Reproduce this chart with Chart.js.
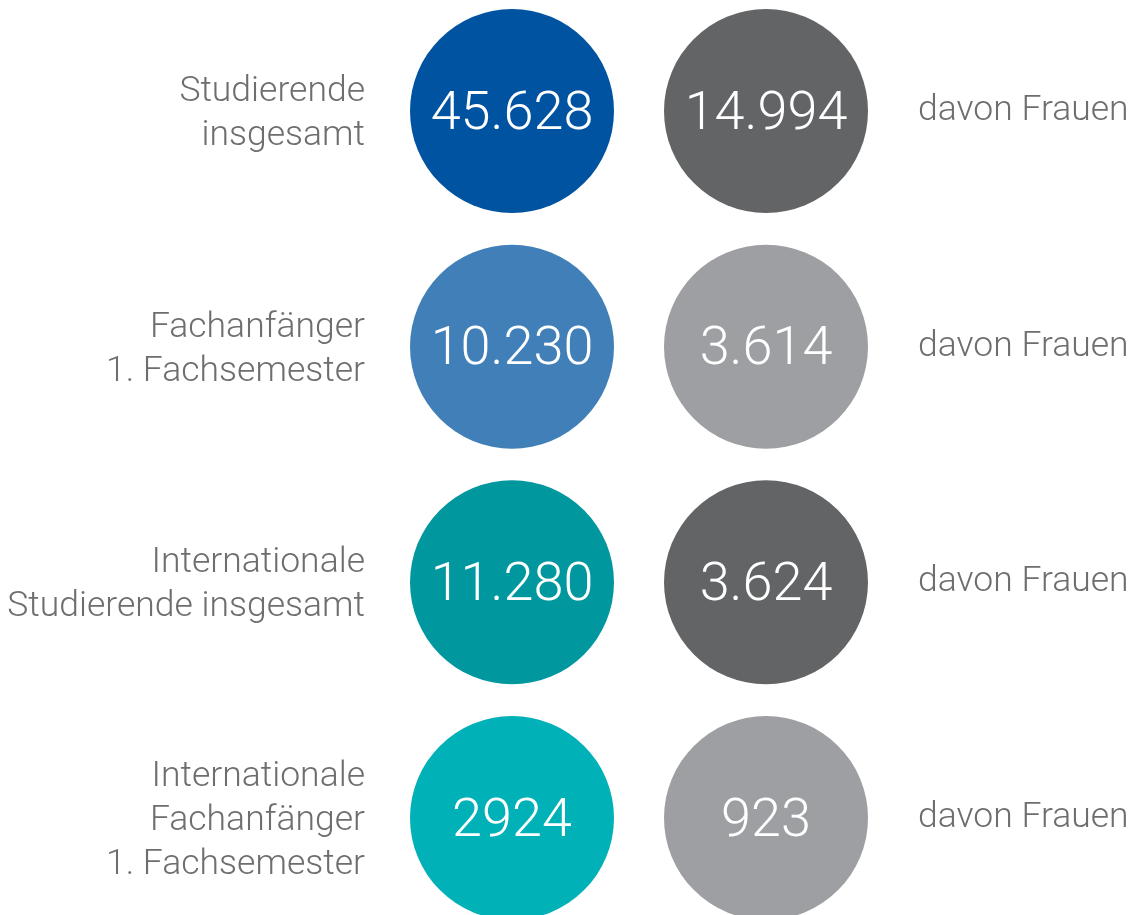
<!DOCTYPE html>
<html>
<head>
<meta charset="utf-8">
<script src="https://cdn.jsdelivr.net/npm/chart.js@4/dist/chart.umd.min.js"></script>
<style>
  html, body { margin: 0; padding: 0; background: #fff; }
  #wrap { width: 1135px; height: 915px; }
</style>
</head>
<body>
<div id="wrap"><canvas id="chart"></canvas></div>
<script>
// rows of the infographic
const rowLabels = [
  ['Studierende', 'insgesamt'],
  ['Fachanfänger', '1. Fachsemester'],
  ['Internationale', 'Studierende insgesamt'],
  ['Internationale', 'Fachanfänger', '1. Fachsemester']
];
const totals = [45628, 10230, 11280, 2924];
const women = [14994, 3614, 3624, 923];
const womenLabel = 'davon Frauen';
const totalColors = ['#0053A0', '#417FB8', '#00979F', '#00B1B7'];
const womenColors = ['#636466', '#9D9FA2', '#636466', '#9D9FA2'];

const FONT = 'Roboto, "Liberation Sans", sans-serif';

// the source prints 4-digit numbers without a separator only in the last row
const fmt = (v, i) => i === 3 ? String(v) : String(v).replace(/\B(?=(\d{3})+(?!\d))/g, '.');

const circleText = {
  id: 'circleText',
  afterDatasetsDraw(chart) {
    const ctx = chart.ctx;
    const xs = chart.scales.x, ys = chart.scales.y;
    const r = chart.data.datasets[0].radius;
    ctx.save();
    // numbers inside the circles
    ctx.fillStyle = '#fff';
    ctx.font = '300 54px ' + FONT;
    ctx.textAlign = 'center';
    ctx.textBaseline = 'middle';
    chart.data.datasets.forEach((ds, d) => {
      const meta = chart.getDatasetMeta(d);
      meta.data.forEach((pt, i) => {
        ctx.fillText(fmt(ds.values[i], i), pt.x, pt.y + 4);
      });
    });
    // side labels
    ctx.fillStyle = '#6D6E70';
    ctx.font = '300 35.5px ' + FONT;
    const lh = 44;
    rowLabels.forEach((lines, i) => {
      const cy = ys.getPixelForValue(i);
      ctx.textAlign = 'right';
      const y0 = cy - (lines.length - 1) * lh / 2 + 3;
      lines.forEach((t, k) => ctx.fillText(t, xs.getPixelForValue(0) - r - 45, y0 + k * lh));
      ctx.textAlign = 'left';
      ctx.fillText(womenLabel, xs.getPixelForValue(1) + r + 50, cy);
    });
    ctx.restore();
  }
};

new Chart(document.getElementById('chart'), {
  type: 'bubble',
  data: {
    datasets: [
      {
        label: 'insgesamt',
        values: totals,
        data: totals.map((v, i) => ({ x: 0, y: i })),
        backgroundColor: totalColors,
        borderWidth: 0,
        radius: 102,
        hoverRadius: 0,
        clip: false
      },
      {
        label: womenLabel,
        values: women,
        data: women.map((v, i) => ({ x: 1, y: i })),
        backgroundColor: womenColors,
        borderWidth: 0,
        radius: 102,
        hoverRadius: 0,
        clip: false
      }
    ]
  },
  options: {
    responsive: true,
    maintainAspectRatio: false,
    animation: false,
    events: [],
    layout: { autoPadding: false, padding: { left: 512, right: 369, top: 111, bottom: 97 } },
    scales: {
      x: { type: 'linear', min: 0, max: 1, display: false },
      y: { type: 'linear', min: 0, max: 3, reverse: true, display: false }
    },
    plugins: {
      legend: { display: false },
      tooltip: { enabled: false }
    }
  },
  plugins: [circleText]
});
</script>
</body>
</html>
